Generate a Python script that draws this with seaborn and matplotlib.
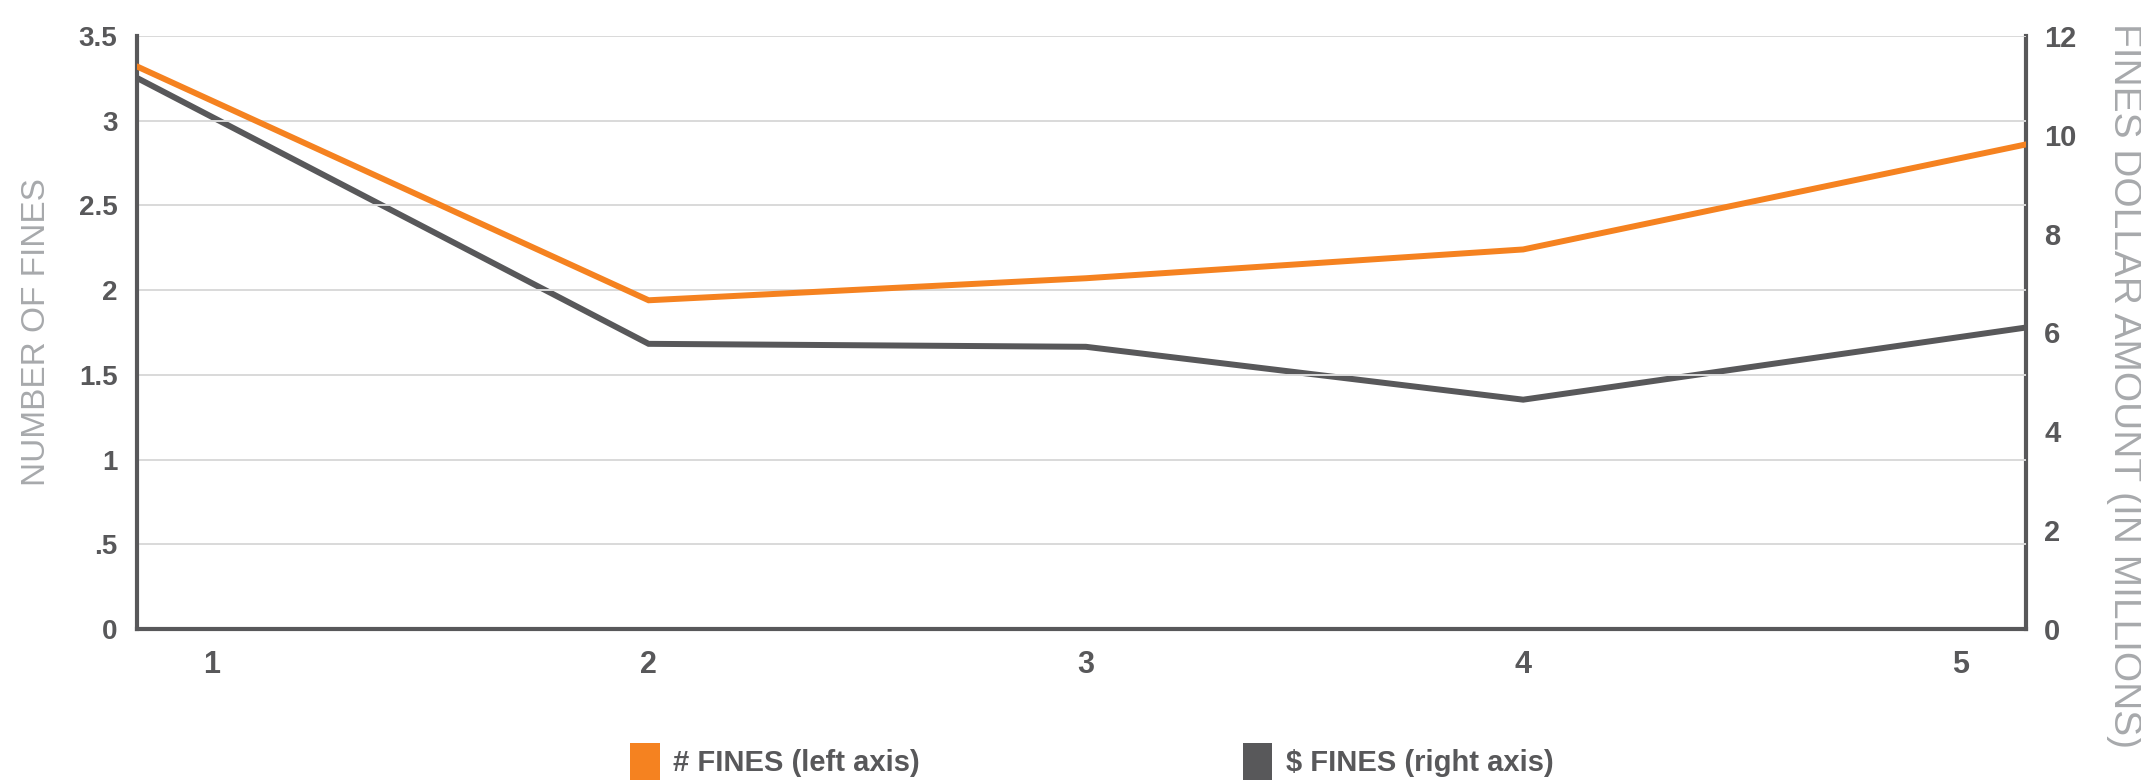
import matplotlib
matplotlib.use("Agg")
import matplotlib.pyplot as plt
from matplotlib.patches import Patch
import pandas as pd
import seaborn as sns

# Period labels along the x axis and the x positions of each series vertex
periods = ["1", "2", "3", "4", "5"]
period_ticks = [1, 2, 3, 4, 5]
x_points = [0.83, 2, 3, 4, 5.15]

# Number of fines (left axis) and dollar amount in millions (right axis)
fines_count = [3.32, 1.94, 2.07, 2.24, 2.86]
fines_dollars = [11.15, 5.77, 5.71, 4.64, 6.10]

left_ticks = [0, 0.5, 1, 1.5, 2, 2.5, 3, 3.5]
left_ticklabels = ["0", ".5", "1", "1.5", "2", "2.5", "3", "3.5"]
right_ticks = [0, 2, 4, 6, 8, 10, 12]

ORANGE = "#F58220"
DARK = "#58585A"
GRID = "#D9D9D9"
LABEL_GREY = "#A7A9AC"
TICK_GREY = "#58585A"

sns.set_theme(style="white")
plt.rcParams["font.family"] = ["Liberation Sans", "DejaVu Sans"]
NARROW = ["Liberation Sans Narrow", "Liberation Sans", "DejaVu Sans"]

df = pd.DataFrame({"x": x_points, "count": fines_count, "dollars": fines_dollars})

fig = plt.figure(figsize=(21.41, 7.82), dpi=100)
ax = fig.add_axes([0.064, 0.1957, 0.8823, 0.7583])
ax2 = ax.twinx()

# horizontal guide lines at the left-axis ticks
for t in left_ticks[1:]:
    ax.axhline(t, color=GRID, lw=1.4, zorder=0)

sns.lineplot(data=df, x="x", y="dollars", ax=ax2, color=DARK, lw=4.3,
             solid_joinstyle="miter", zorder=3)
sns.lineplot(data=df, x="x", y="count", ax=ax, color=ORANGE, lw=4.3,
             solid_joinstyle="miter", zorder=3)
ax.set_zorder(ax2.get_zorder() + 1)
ax.patch.set_visible(False)

ax.set_xlim(x_points[0], x_points[-1])
ax.set_ylim(0, 3.5)
ax2.set_ylim(0, 12)

ax.set_xticks(period_ticks)
ax.set_xticklabels(periods, family=NARROW, fontweight="bold", fontsize=22,
                   color=TICK_GREY)
ax.set_yticks(left_ticks)
ax.set_yticklabels(left_ticklabels, fontweight="bold", fontsize=20,
                   color=TICK_GREY)
ax2.set_yticks(right_ticks)
ax2.set_yticklabels([str(t) for t in right_ticks], fontweight="bold",
                    fontsize=21, color=TICK_GREY)

ax.tick_params(axis="x", length=0, pad=15)
ax.tick_params(axis="y", length=0, pad=14)
ax2.tick_params(axis="y", length=0, pad=13)

ax.set_xlabel("")
ax.set_ylabel("NUMBER OF FINES", family=NARROW, fontsize=24,
              color=LABEL_GREY)
ax.yaxis.set_label_coords(-0.045, 0.5)
ax2.set_ylabel("FINES DOLLAR AMOUNT (IN MILLIONS)", family=NARROW,
               fontsize=28, color=LABEL_GREY, rotation=270, va="center")
ax2.yaxis.set_label_coords(1.052, 0.41)

for a in (ax, ax2):
    for side, sp in a.spines.items():
        sp.set_color(DARK)
        sp.set_linewidth(3)
    a.spines["top"].set_visible(False)
ax.spines["right"].set_visible(False)
ax2.spines["left"].set_visible(False)
ax2.spines["bottom"].set_visible(False)
ax.grid(False)
ax2.grid(False)

handles = [Patch(facecolor=ORANGE, edgecolor="none"),
           Patch(facecolor=DARK, edgecolor="none")]
labels = ["# FINES (left axis)", "$ FINES (right axis)"]
fig.legend(handles, labels, loc="center", bbox_to_anchor=(0.510, 0.026),
           ncol=2, frameon=False, handlelength=1.0, handleheight=1.6,
           handletextpad=0.45, columnspacing=11.1,
           prop={"family": NARROW, "weight": "bold", "size": 21},
           labelcolor=TICK_GREY)

fig.savefig("out.png", dpi=100)
